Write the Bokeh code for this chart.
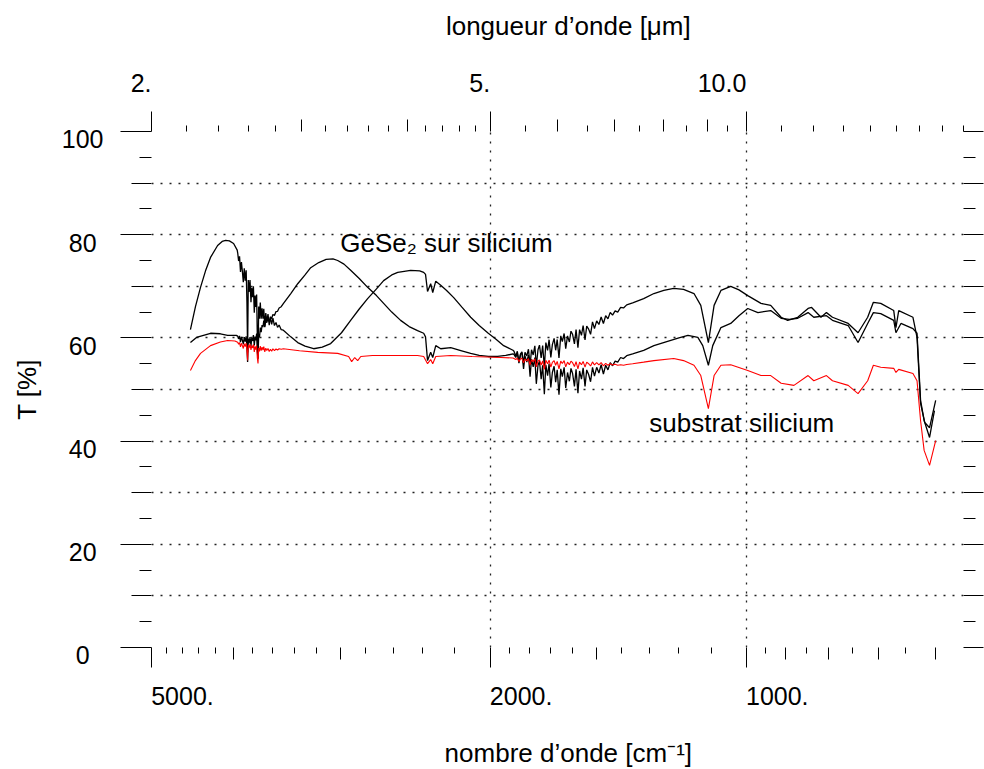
from bokeh.plotting import figure
from bokeh.models import (Range1d, LogScale, LogAxis, LinearAxis, FixedTicker, Grid)
from bokeh.core.properties import value
from bokeh.embed import file_html
from bokeh.resources import INLINE

FONT = "Liberation Sans"
TICK_FS = "25px"
TEXT_FS = "26px"
NBSP = "\u00a0"

# ---------------- data: wavenumber (cm^-1) and transmission (%) ----------------
# water-vapour bands share the same sampling for the three spectra
wn_water1 = [3960, 3950, 3940, 3930, 3920, 3910, 3900, 3890, 3880, 3870, 3862, 3855, 3848,
             3840, 3830, 3820, 3812, 3804, 3795, 3786, 3778, 3770, 3762, 3755, 3748, 3741,
             3733, 3725, 3716, 3707, 3698, 3690, 3680, 3670, 3660, 3648, 3636, 3624, 3612,
             3600, 3585, 3570, 3555, 3540, 3520, 3500]
wn_water2 = [1875, 1866, 1858, 1850, 1842, 1835, 1827, 1820, 1811, 1803, 1795, 1788, 1780,
             1772, 1765, 1757, 1750, 1742, 1735, 1727, 1720, 1712, 1705, 1697, 1690, 1682,
             1675, 1668, 1660, 1652, 1645, 1637, 1630, 1622, 1614, 1607, 1600, 1592, 1585,
             1577, 1570, 1562, 1555, 1547, 1540, 1532, 1524, 1516, 1508, 1499, 1490, 1481,
             1472, 1463, 1454, 1445, 1436, 1426, 1416, 1405, 1394, 1382]

# GeSe2 film on silicon, sample A (fringe maximum near 4100 cm^-1)
wn_a_head = [4500, 4440, 4379, 4320, 4262, 4181, 4130, 4091, 4050, 4004, 3965]
T_a_head = [61.6, 66.0, 69.8, 73.0, 75.6, 77.9, 78.7, 78.9, 78.8, 78.3, 77.0]
T_a_water1 = [76.5, 74.9, 75.8, 72.8, 74.7, 72.9, 70.8, 73.5, 71.1, 73.1, 66.9, 57.2, 71.2,
              68.9, 71.2, 66.9, 69.7, 67.9, 70.0, 64.9, 68.2, 66.0, 68.4, 60.2, 56.0, 66.1,
              63.7, 66.85, 63.7, 65.75, 63.7, 65.65, 62.2, 64.8, 63.2, 64.6, 62.45, 64.0, 62.6,
              63.85, 62.4, 63.0, 62.05, 62.5, 61.6, 61.5]
wn_a_mid = [3430, 3366, 3300, 3224, 3150, 3079, 2990, 2917, 2850, 2786, 2720, 2668, 2610,
            2568, 2480, 2420, 2394, 2382, 2369, 2349, 2336, 2317, 2286, 2250, 2207, 2160,
            2108, 2060, 2010, 1970, 1928, 1880]
T_a_mid = [60.2, 59.1, 58.4, 57.9, 58.2, 58.9, 61.0, 63.4, 65.6, 67.6, 69.5, 71.1, 72.2,
           72.7, 73.1, 73.0, 72.7, 72.3, 69.0, 70.5, 68.8, 71.0, 70.2, 69.2, 67.8, 66.0,
           64.0, 62.4, 60.9, 59.8, 58.5, 57.6]
T_a_water2 = [57.4, 56.5, 57.4, 55.1, 56.8, 57.1, 54.0, 56.5, 55.3, 56.7, 52.5, 55.9, 54.4,
              56.2, 51.1, 54.7, 55.5, 52.0, 54.7, 49.1, 54.8, 52.7, 55.0, 50.4, 53.3, 54.5,
              51.4, 53.8, 49.0, 54.0, 52.5, 54.3, 50.3, 53.3, 51.6, 54.1, 53.1, 50.6, 53.9,
              49.3, 53.6, 52.0, 54.2, 50.6, 53.8, 52.9, 51.5, 54.3, 52.6, 54.3, 53.2, 54.8,
              53.0, 54.7, 53.8, 55.2, 54.6, 55.5, 55.3, 56.2, 56.0, 56.55]
wn_a_tail = [1360, 1320, 1284, 1240, 1200, 1171, 1140, 1125, 1108, 1095, 1071, 1043, 1020,
             996, 969, 936, 910, 890, 870, 846, 833, 805, 792, 759, 739, 720, 709, 695, 671,
             667, 658, 637, 630, 624, 618, 609, 601]
T_a_tail = [56.9, 57.6, 58.5, 59.3, 60.0, 60.5, 60.1, 58.5, 54.7, 58.5, 62.0, 62.8, 64.3,
            65.7, 64.9, 65.3, 63.8, 63.6, 63.8, 64.9, 64.0, 64.3, 63.4, 62.4, 59.1, 62.8,
            64.9, 64.7, 63.4, 61.0, 62.8, 61.8, 60.9, 47.9, 44.0, 40.7, 45.9]

# GeSe2 film on silicon, sample B (fringe maximum near 3100 cm^-1)
wn_b_head = [4500, 4427, 4262, 4150, 4069, 3975]
T_b_head = [59.1, 60.1, 60.9, 60.8, 60.5, 60.5]
T_b_water1 = [60.35, 59.8, 60.4, 59.2, 60.2, 59.55, 58.8, 60.15, 59.3, 60.3, 58.15, 55.35,
              59.85, 58.95, 60.15, 58.45, 59.95, 59.4, 60.55, 58.55, 60.25, 59.5, 60.85,
              57.4, 55.95, 60.7, 60.1, 62.0, 61.1, 62.5, 62.1, 63.35, 62.1, 63.5, 62.95,
              63.85, 63.15, 64.1, 63.75, 64.55, 64.35, 65.1, 65.15, 65.8, 66.05, 66.65]
wn_b_mid = [3430, 3366, 3300, 3250, 3180, 3117, 3060, 3021, 2970, 2917, 2850, 2786, 2720,
            2668, 2610, 2548, 2490, 2434, 2394, 2382, 2369, 2349, 2336, 2317, 2286, 2225,
            2160, 2108, 2060, 2010, 1960, 1917, 1880]
T_b_mid = [68.6, 70.5, 72.2, 73.6, 74.6, 75.2, 75.3, 75.0, 74.3, 73.1, 71.5, 69.8, 68.2,
           66.7, 65.0, 63.4, 62.2, 61.4, 60.9, 60.2, 55.6, 57.2, 56.2, 58.5, 57.9, 58.1,
           57.5, 57.0, 56.6, 56.4, 56.4, 56.6, 56.9]
T_b_water2 = [56.8, 56.2, 57.05, 55.3, 56.9, 57.3, 55.05, 57.2, 56.5, 57.8, 54.7, 57.7, 56.7,
              58.45, 54.55, 57.7, 58.6, 56.1, 58.5, 54.3, 59.1, 57.6, 59.65, 56.2, 58.7, 59.9,
              57.6, 59.7, 56.1, 60.4, 59.3, 60.85, 57.9, 60.4, 59.2, 61.3, 60.7, 58.85, 61.6,
              58.1, 61.6, 60.5, 62.4, 59.6, 62.3, 61.7, 60.7, 63.1, 61.8, 63.3, 62.6, 64.05,
              62.8, 64.3, 63.7, 64.95, 64.4, 65.25, 65.0, 65.9, 65.8, 66.4]
wn_b_tail = [1360, 1320, 1284, 1250, 1217, 1185, 1152, 1131, 1108, 1091, 1071, 1043, 1020,
             996, 961, 936, 910, 894, 870, 846, 838, 817, 805, 792, 759, 739, 720, 709, 695,
             671, 667, 662, 637, 630, 624, 617, 609, 599]
T_b_tail = [66.8, 67.6, 68.6, 69.2, 69.6, 69.4, 68.6, 66.3, 59.1, 66.3, 69.2, 70.0, 69.3,
            68.2, 66.7, 66.3, 64.0, 63.4, 64.0, 65.7, 65.9, 64.0, 64.9, 64.0, 62.8, 61.0,
            64.0, 66.9, 66.7, 65.3, 62.0, 65.3, 64.0, 60.1, 47.3, 43.6, 42.6, 47.9]

# bare silicon substrate (red)
wn_si_head = [4500, 4440, 4379, 4262, 4150, 4069, 3990]
T_si_head = [53.7, 55.6, 57.0, 58.5, 59.2, 59.5, 59.4]
T_si_water1 = [59.15, 58.75, 59.1, 58.25, 58.95, 58.5, 57.95, 58.9, 58.3, 59.0, 57.5, 55.65,
               58.65, 58.0, 58.8, 57.65, 58.5, 58.05, 58.75, 57.3, 58.35, 57.75, 58.5, 56.15,
               55.05, 58.05, 57.4, 58.4, 57.55, 58.2, 57.65, 58.3, 57.3, 58.0, 57.55, 57.95,
               57.35, 57.8, 57.4, 57.9, 57.55, 57.85, 57.65, 57.9, 57.8, 57.9]
wn_si_mid = [3350, 3189, 3021, 2933, 2909, 2885, 2862, 2838, 2750, 2668, 2550, 2434, 2394,
             2369, 2349, 2336, 2317, 2225, 2100, 1943, 1880]
T_si_mid = [57.5, 57.2, 57.0, 56.4, 55.4, 56.2, 55.6, 56.4, 56.6, 56.6, 56.6, 56.6, 56.4,
            55.0, 55.8, 55.0, 56.4, 56.6, 56.4, 56.2, 56.1]
T_si_water2 = [56.0, 55.8, 56.1, 55.4, 55.95, 56.05, 55.15, 55.9, 55.55, 56.0, 54.75, 55.8,
               55.4, 55.95, 54.4, 55.55, 55.75, 54.75, 55.55, 53.9, 55.65, 55.0, 55.7, 54.35,
               55.25, 55.6, 54.7, 55.45, 54.0, 55.5, 55.05, 55.6, 54.4, 55.3, 54.8, 55.5,
               55.2, 54.45, 55.4, 54.0, 55.3, 54.8, 55.45, 54.35, 55.3, 55.0, 54.55, 55.35,
               54.75, 55.2, 54.75, 55.2, 54.6, 55.05, 54.7, 55.0, 54.75, 54.9, 54.7, 54.8,
               54.7, 54.85]
wn_si_tail = [1360, 1320, 1284, 1217, 1185, 1152, 1131, 1108, 1091, 1071, 1043, 996, 961,
              936, 910, 879, 846, 833, 805, 792, 759, 739, 720, 709, 695, 671, 667, 662, 637,
              630, 624, 618, 609, 599]
T_si_tail = [55.0, 55.3, 55.6, 56.0, 55.6, 54.7, 52.7, 46.3, 52.7, 54.7, 54.8, 53.7, 52.7,
             52.7, 51.2, 50.8, 52.7, 51.7, 52.7, 51.7, 50.8, 49.2, 51.7, 54.7, 54.3, 54.1,
             53.3, 53.9, 53.1, 51.7, 44.0, 38.2, 35.3, 40.1]

wn_film_a = wn_a_head + wn_water1 + wn_a_mid + wn_water2 + wn_a_tail
T_film_a = T_a_head + T_a_water1 + T_a_mid + T_a_water2 + T_a_tail
wn_film_b = wn_b_head + wn_water1 + wn_b_mid + wn_water2 + wn_b_tail
T_film_b = T_b_head + T_b_water1 + T_b_mid + T_b_water2 + T_b_tail
wn_si = wn_si_head + wn_water1 + wn_si_mid + wn_water2 + wn_si_tail
T_si = T_si_head + T_si_water1 + T_si_mid + T_si_water2 + T_si_tail

# ---------------- ticks and texts ----------------
bottom_major = [5000, 2000, 1000]
bottom_labels = ["5000.", "2000.", "1000."]
bottom_medium = [4000, 3000, 1500, 900, 800, 700, 600]
bottom_minor = [4800, 4600, 4400, 4200, 3800, 3600, 3400, 3200, 2800, 2600, 2400, 2200,
                1900, 1800, 1700, 1600, 1400, 1300, 1200, 1100, 950, 850, 750, 650]

top_major = [2, 5, 10]
top_labels = ["2.", "5.", "10.0"]
top_medium = [3, 4, 6, 7, 8, 9]
top_minor = [2.2, 2.4, 2.6, 2.8, 3.2, 3.4, 3.6, 3.8, 4.2, 4.4, 4.6, 4.8, 5.5, 6.5, 7.5,
             8.5, 9.5, 11, 12, 13, 14, 15, 16, 17, 18]

y_major = [0, 20, 40, 60, 80, 100]
y_labels = ["0", "20", "40", "60", "80", "100"]
y_medium = [10, 30, 50, 70, 90]
y_minor = [5, 15, 25, 35, 45, 55, 65, 75, 85, 95]
y_tens = [0, 10, 20, 30, 40, 50, 60, 70, 80, 90, 100]

grid_x = [5000, 2000, 1000]
grid_y = [0, 10, 20, 30, 40, 50, 60, 70, 80, 90, 100]

label_film = "GeSe\u2082 sur silicium"
label_si = "substrat silicium"
title_top = "longueur d\u2019onde [\u03bcm]"
title_bottom = "nombre d\u2019onde [cm\u207b\u00b9]"
title_left = "T [%]"

# ---------------- layout constants ----------------
FRAME_W, FRAME_H = 812, 516
WN_START, WN_END = 5000.0, 10000.0 / 18.0     # reversed log wavenumber axis
LAM_START, LAM_END = 2.0, 18.0                 # wavelength (um) of the same span
PX_PER_DECADE = FRAME_W / 0.954243             # log10(5000 / 555.6)
BOTTOM_SHIFT = 10 ** (31 / PX_PER_DECADE)      # bottom labels start at their tick

# tick label texts padded with no-break spaces so that the visible text is
# right-aligned (top), centred in a 3-digit box (left); titles nudged right
top_texts = [t + NBSP * n for t, n in zip(top_labels, [3, 3, 7])]
left_texts = ["\n" + t + NBSP * n for t, n in zip(y_labels, [2, 1, 1, 1, 1, 0])]
title_top_text = NBSP * 3 + title_top
title_bottom_text = NBSP * 3 + title_bottom

p = figure(frame_width=FRAME_W, frame_height=FRAME_H,
           min_border_left=151, min_border_right=21, min_border_top=131, min_border_bottom=122,
           x_axis_type="log", x_range=Range1d(WN_START, WN_END), y_range=Range1d(0, 100),
           x_axis_location=None, y_axis_location=None, title=None,
           output_backend="svg", toolbar_location=None)
p.outline_line_color = None
p.background_fill_color = "white"
p.border_fill_color = "white"
for g in p.grid:
    g.visible = False

p.extra_x_ranges = {"lam": Range1d(LAM_START, LAM_END),
                    "wnlab": Range1d(WN_START * BOTTOM_SHIFT, WN_END * BOTTOM_SHIFT)}
p.extra_x_scales = {"lam": LogScale(), "wnlab": LogScale()}

grid_style = dict(grid_line_color="#222222", grid_line_width=1.3, grid_line_dash="2 7")
p.add_layout(Grid(dimension=0, ticker=FixedTicker(ticks=grid_x), **grid_style))
p.add_layout(Grid(dimension=1, ticker=FixedTicker(ticks=grid_y), **grid_style))


def tick_axis(cls, major, minor, tin, tout, minor_in, minor_out, **kw):
    return cls(ticker=FixedTicker(ticks=major, minor_ticks=minor),
               axis_line_color=None,
               major_tick_in=tin, major_tick_out=tout,
               minor_tick_in=minor_in, minor_tick_out=minor_out,
               major_tick_line_color="black", minor_tick_line_color="black",
               major_tick_line_width=1, minor_tick_line_width=1,
               major_label_text_color=None, **kw)


def bare_axis(cls, **kw):
    return cls(axis_line_color=None, major_tick_line_color=None, minor_tick_line_color=None,
               major_tick_in=0, major_tick_out=0, minor_tick_in=0, minor_tick_out=0, **kw)


def label_axis(cls, ticks, labels, standoff, **kw):
    return bare_axis(cls, ticker=FixedTicker(ticks=ticks),
                     major_label_overrides=dict(zip(ticks, labels)),
                     major_label_standoff=standoff,
                     major_label_text_font=FONT, major_label_text_font_size=TICK_FS,
                     major_label_text_color="black", **kw)


def title_axis(cls, text, standoff, **kw):
    return bare_axis(cls, ticker=FixedTicker(ticks=[]),
                     major_label_text_color=None,
                     axis_label=text, axis_label_standoff=standoff,
                     axis_label_text_font=FONT, axis_label_text_font_size=TEXT_FS,
                     axis_label_text_font_style="normal", axis_label_text_color="black", **kw)


# left: short ticks, then long/medium ticks reaching back to the frame, then labels, title
p.add_layout(tick_axis(LinearAxis, y_minor, [], 0, 12, 0, 0), "left")
p.add_layout(tick_axis(LinearAxis, y_major, y_medium, 12, 19, 12, 8), "left")
p.add_layout(label_axis(LinearAxis, y_major, left_texts, 17,
                        major_label_text_line_height=0.56), "left")
p.add_layout(title_axis(LinearAxis, title_left, 17), "left")
# right
p.add_layout(tick_axis(LinearAxis, y_tens, y_minor, 0, 20, 0, 12), "right")
# bottom (wavenumber)
p.add_layout(tick_axis(LogAxis, bottom_minor, [], 0, 6, 0, 0), "below")
p.add_layout(tick_axis(LogAxis, bottom_major, bottom_medium, 6, 14, 6, 6), "below")
p.add_layout(label_axis(LogAxis, bottom_major, bottom_labels, 19, x_range_name="wnlab"), "below")
p.add_layout(title_axis(LogAxis, title_bottom_text, 30), "below")
# top (wavelength)
p.add_layout(tick_axis(LogAxis, top_minor, [], 0, 6, 0, 0, x_range_name="lam"), "above")
p.add_layout(tick_axis(LogAxis, top_major, top_medium, 6, 14, 6, 6, x_range_name="lam"), "above")
p.add_layout(label_axis(LogAxis, top_major, top_texts, 15, x_range_name="lam"), "above")
p.add_layout(title_axis(LogAxis, title_top_text, 25, x_range_name="lam"), "above")

# curves
p.line(wn_film_a, T_film_a, line_color="black", line_width=1.3)
p.line(wn_film_b, T_film_b, line_color="black", line_width=1.3)
p.line(wn_si, T_si, line_color="red", line_width=1.1)

# curve annotations
txt = dict(text_font=value(FONT), text_font_size=value(TEXT_FS), text_color="black",
           text_align="left", text_baseline="alphabetic")
p.text(x=[3000], y=[78.4], text=[label_film], **txt)
p.text(x=[1300], y=[43.6], text=[label_si], **txt)

open("out.html", "w").write(file_html(p, INLINE))
